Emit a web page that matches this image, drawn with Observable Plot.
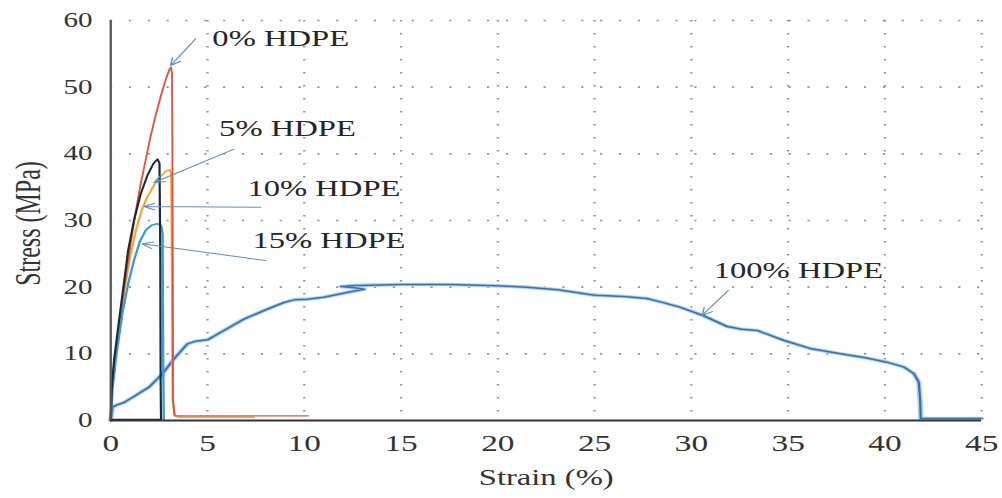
<!DOCTYPE html>
<html>
<head>
<meta charset="utf-8">
<script src="https://cdn.jsdelivr.net/npm/d3@7"></script>
<script src="https://cdn.jsdelivr.net/npm/@observablehq/plot@0.6"></script>
<style>
  html, body { margin: 0; padding: 0; background: #fff; }
  #chart svg { display: block; }
</style>
</head>
<body>
<div id="chart"></div>
<script>
// Stress–strain curves for HDPE blends (strain in %, stress in MPa)
const strain0   = [0, 0.05, 0.17, 0.43, 0.7, 1.0, 1.3, 1.55, 1.8, 2.05, 2.3, 2.6, 2.85, 3.05, 3.12, 3.17, 3.2, 3.22, 3.3, 5, 8, 10.2];
const stress0   = [0, 4, 8.5, 14, 20, 26, 31.5, 35.5, 39, 42.5, 45.5, 48.8, 51.2, 52.8, 53, 52, 30, 3, 0.7, 0.7, 0.7, 0.7];

const strain5   = [0, 0.05, 0.2, 0.45, 0.7, 1.0, 1.3, 1.6, 1.9, 2.24, 2.55, 2.85, 3.05, 3.13, 3.17, 3.2, 3.3, 3.5, 5, 7.4];
const stress5   = [0, 4, 9, 14, 19.5, 24.5, 28.5, 31.5, 33.6, 35.3, 36.5, 37.4, 37.6, 37, 20, 3, 0.8, 0.5, 0.5, 0.5];

const strain10  = [0, 0.05, 0.17, 0.43, 0.7, 0.9, 1.2, 1.55, 1.9, 2.2, 2.42, 2.52, 2.56, 2.58, 2.6, 0];
const stress10  = [0, 4.5, 9, 15, 21, 25.5, 30, 34, 36.8, 38.5, 39.2, 38.6, 25, 5, 0.15, 0.15];

const strain15  = [0, 0.1, 0.3, 0.6, 0.9, 1.2, 1.5, 1.8, 2.1, 2.4, 2.6, 2.68, 2.71, 2.74];
const stress15  = [0, 5, 10, 16, 20.5, 24, 26.8, 28.5, 29.3, 29.5, 29.3, 28, 10, 0.2];

const strain100 = [0, 0.09, 0.3, 0.69, 1.2, 1.98, 2.67, 3.27, 3.96, 4.4, 5.0, 5.85, 6.88, 7.92, 8.95, 9.47, 10.16, 11.0, 12.4, 13.1, 12.6, 11.9, 12.6, 13.5, 15, 17.5, 20, 21.5, 23.1, 25, 26.5, 27.7, 28.4, 29.4, 30.6, 31.85, 32.6, 33.4, 34.8, 36.2, 37.7, 39, 40.1, 41, 41.5, 41.75, 41.82, 41.85, 43, 45];
const stress100 = [0, 2, 2.3, 2.7, 3.6, 5, 7, 9.25, 11.5, 11.9, 12.1, 13.5, 15.2, 16.5, 17.7, 18.1, 18.2, 18.5, 19.3, 19.7, 19.9, 20.1, 20.25, 20.3, 20.4, 20.4, 20.2, 20.0, 19.6, 18.8, 18.6, 18.3, 17.8, 17.0, 15.75, 14.1, 13.7, 13.5, 12.0, 10.75, 10.0, 9.4, 8.75, 8.0, 7.0, 5.75, 3.0, 0.3, 0.3, 0.3];

// Curve labels and their annotation arrows
const labelText   = ["0% HDPE", "5% HDPE", "10% HDPE", "15% HDPE", "100% HDPE"];
const labelStrain = [5.25, 5.6, 7.06, 7.32, 31.15];
const labelStress = [57.3, 43.75, 34.75, 27.0, 22.5];
const arrowFromX  = [4.39, 6.37, 7.75, 8.0, 31.9];
const arrowFromY  = [57.25, 40.7, 32.0, 24.0, 19.5];
const arrowToX    = [3.1, 2.24, 1.72, 1.63, 30.55];
const arrowToY    = [53.25, 35.7, 32.1, 26.5, 15.75];

const xTicks = [0, 5, 10, 15, 20, 25, 30, 35, 40, 45];
const yTicks = [0, 10, 20, 30, 40, 50, 60];

const rows = (xs, ys) => xs.map((x, i) => ({strain: x, stress: ys[i]}));
const labels = labelText.map((t, i) => ({text: t, x: labelStrain[i], y: labelStress[i]}));
const arrows = arrowFromX.map((x, i) => ({x1: x, y1: arrowFromY[i], x2: arrowToX[i], y2: arrowToY[i]}));

// The figure is drawn on a narrower canvas and widened horizontally on screen
const stretch = 1.45;
const outW = 1002, H = 498;
const W = outW / stretch;
const serif = "'Liberation Serif', 'Times New Roman', serif";

const chart = Plot.plot({
  width: W,
  height: H,
  marginLeft: 110 / stretch,
  marginRight: 21 / stretch,
  marginTop: 20,
  marginBottom: 78,
  style: {fontFamily: serif, background: "#fff", color: "#333"},
  x: {domain: [0, 45]},
  y: {domain: [0, 60]},
  marks: [
    Plot.gridX(xTicks.slice(1), {stroke: "#666", strokeOpacity: 0.7, strokeWidth: 1.6, strokeDasharray: "1.5,11.5"}),
    Plot.gridY(yTicks.slice(1), {stroke: "#666", strokeOpacity: 0.7, strokeWidth: 1.6, strokeDasharray: "1.5,11.5"}),
    Plot.axisX(xTicks, {tickSize: 0, tickPadding: 14, fontSize: 23, label: null, fill: "#333"}),
    Plot.axisY(yTicks, {tickSize: 0, tickPadding: 12.5, fontSize: 20, label: null, fill: "#333"}),
    Plot.text(["Strain (%)"], {frameAnchor: "bottom", dy: 64, fontSize: 22.5, fill: "#333"}),
    Plot.text(["Stress (MPa)"], {frameAnchor: "left", textAnchor: "middle", dx: -56.5, dy: 3, rotate: -90, fontSize: 24, fill: "#333"}),
    // 100% HDPE with its soft light edge
    Plot.line(rows(strain100, stress100), {x: "strain", y: "stress", stroke: "#a9d1f0", strokeWidth: 3.6}),
    Plot.line(rows(strain100, stress100), {x: "strain", y: "stress", stroke: "#3a6fb0", strokeWidth: 1.5}),
    Plot.line(rows(strain5, stress5), {x: "strain", y: "stress", stroke: "#f2a93b", strokeWidth: 1.6}),
    Plot.line(rows(strain0, stress0), {x: "strain", y: "stress", stroke: "#e2523c", strokeWidth: 1.3}),
    Plot.line(rows(strain15, stress15), {x: "strain", y: "stress", stroke: "#3a9ad2", strokeWidth: 1.6}),
    Plot.line(rows(strain10, stress10), {x: "strain", y: "stress", stroke: "#1c2a33", strokeWidth: 1.5}),
    Plot.ruleX([0], {stroke: "#555", strokeWidth: 1.6}),
    Plot.ruleY([0], {stroke: "#333", strokeWidth: 2}),
    Plot.arrow(arrows, {x1: "x1", y1: "y1", x2: "x2", y2: "y2", stroke: "#5f92bf", strokeWidth: 1, headLength: 12, headAngle: 50}),
    Plot.text(labels, {x: "x", y: "y", text: "text", textAnchor: "start", fontSize: 22.5, fill: "#262626"})
  ]
});

chart.setAttribute("viewBox", `0 0 ${W} ${H}`);
chart.setAttribute("width", outW);
chart.setAttribute("height", H);
chart.setAttribute("preserveAspectRatio", "none");
chart.style.maxWidth = "none";
document.getElementById("chart").appendChild(chart);
</script>
</body>
</html>
